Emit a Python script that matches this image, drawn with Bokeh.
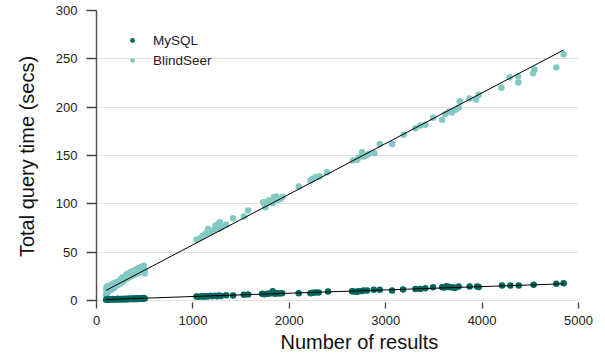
from bokeh.plotting import figure
from bokeh.models import (ColumnDataSource, Legend, LegendItem, Title, Range1d,
                          FixedTicker)
from bokeh.embed import file_html
from bokeh.resources import INLINE

# ---- data ----
bs_x = [100, 102, 105, 110, 115, 120, 125, 130, 140, 150, 155, 160, 170, 180, 190,
        200, 210, 220, 230, 240, 250, 260, 270, 280, 300, 310, 320, 330, 340, 350,
        360, 370, 380, 390, 400, 410, 420, 430, 440, 450, 460, 470, 480, 490, 500, 500,
        1037, 1080, 1103, 1130, 1158, 1175, 1200, 1217, 1234, 1258, 1270, 1279, 1300,
        1345, 1417, 1528, 1573,
        1728, 1745, 1753, 1770, 1787, 1800, 1828, 1839, 1850, 1863, 1880, 1908, 1930,
        2098, 2219, 2240, 2271, 2305, 2313, 2392,
        2658, 2703, 2720, 2755, 2772, 2800, 2824, 2883, 2938,
        3066, 3187, 3308, 3360, 3412, 3491, 3585, 3619, 3661, 3688, 3723, 3757, 3768,
        3868, 3937, 3965,
        4200, 4286, 4373, 4376, 4528, 4545, 4770, 4846]
bs_y = [6, 11, 14, 8, 12, 9, 15, 10, 13, 16, 11, 14, 17, 13, 18,
        15, 19, 16, 20, 17, 22, 19, 24, 20, 22, 27, 23, 28, 24, 29,
        25, 30, 26, 31, 27, 32, 28, 33, 29, 34, 30, 35, 31, 36, 32, 28,
        62.8, 65, 67, 69, 74, 70, 72, 73, 77.6, 79, 74, 81, 76,
        78.3, 85, 87, 93,
        101.7, 99, 96.5, 102, 103.5, 101, 100.7, 107, 104, 107.6, 104, 105, 107,
        118, 124, 126, 127.5, 128, 128.6, 132.7,
        144.8, 145.5, 148, 153.4, 149, 150, 151.7, 152.4, 162,
        162, 171.4, 178.3, 181, 181.7, 189, 187, 193, 195.5, 194.5, 197.3, 199.3, 206,
        209, 208, 212.8,
        220, 231, 231.7, 225.5, 235, 239, 241, 254.8]

my_x = [100, 105, 110, 115, 120, 125, 130, 140, 150, 160, 170, 180, 190, 200, 210,
        220, 230, 240, 250, 260, 270, 280, 290, 300, 310, 320, 330, 340, 350, 360,
        370, 380, 390, 400, 410, 420, 430, 440, 450, 460, 470, 480, 490, 500,
        1037, 1060, 1089, 1110, 1130, 1150, 1182, 1200, 1227, 1250, 1268, 1290, 1345,
        1417, 1528, 1573,
        1718, 1740, 1770, 1800, 1828, 1850, 1874, 1900, 1925,
        2098, 2219, 2240, 2271, 2305, 2402,
        2651, 2668, 2700, 2720, 2750, 2772, 2807, 2876, 2938,
        3066, 3180, 3308, 3360, 3412, 3491, 3585, 3610, 3630, 3650, 3671, 3700, 3723,
        3757, 3871, 3948, 3965,
        4207, 4293, 4380, 4535, 4770, 4846]
my_y = [0.5, 1.2, 0.3, 0.9, 1.5, 0.6, 1.1, 0.4, 1.3, 0.8, 1.6, 0.5, 1.0, 1.4, 0.7,
        1.8, 1.1, 0.6, 1.5, 1.2, 0.9, 1.7, 1.3, 0.8, 1.9, 1.4, 1.0, 2.0, 1.5, 1.2,
        2.1, 1.6, 1.1, 2.2, 1.7, 1.4, 2.3, 1.8, 1.5, 2.4, 1.9, 1.6, 2.5, 2.0,
        4.1, 3.8, 4.5, 4.0, 4.5, 4.2, 4.8, 4.3, 4.8, 4.5, 5.2, 4.7, 5.5,
        5.2, 5.9, 6.2,
        6.9, 6.5, 6.9, 7.2, 9.6, 7.0, 7.6, 7.3, 7.6,
        7.6, 7.6, 8.0, 8.3, 8.3, 9.3,
        9.6, 9.3, 9.0, 9.6, 9.8, 10.3, 10.3, 11, 11,
        10.3, 11.4, 12, 12, 12.8, 13.8, 13.8, 13.5, 14.8, 14.2, 13.8, 13.5, 13.1,
        14.5, 14.5, 14.5, 14.0,
        15.5, 15.5, 15.5, 16.2, 17.2, 17.9]

# linear fits (intercept, slope)
bs_fit = [5.25, 0.0524]
my_fit = [0.7, 0.00342]

series_names = ["MySQL", "BlindSeer"]
x_ticks = [0, 1000, 2000, 3000, 4000, 5000]
y_ticks = [0, 50, 100, 150, 200, 250, 300]

MY_COLOR = "#01665e"
BS_COLOR = "#82c9c4"
FONT = "Liberation Sans"

p = figure(width=605, height=358, output_backend="svg", toolbar_location=None,
           x_range=Range1d(0, 5000), y_range=Range1d(-2.07, 300),
           min_border_left=96, min_border_right=27, min_border_top=10,
           min_border_bottom=56)
p.outline_line_color = None
p.background_fill_color = "white"

bs_src = ColumnDataSource(dict(x=bs_x, y=bs_y))
my_src = ColumnDataSource(dict(x=my_x, y=my_y))

r_bs = p.scatter("x", "y", source=bs_src, size=6.5, color=BS_COLOR, line_color=None)
r_my = p.scatter("x", "y", source=my_src, size=6.5, color=MY_COLOR, line_color=None)

bx = [min(bs_x), max(bs_x)]
p.line(bx, [bs_fit[0] + bs_fit[1] * v for v in bx], line_color="black", line_width=1)
mx = [min(my_x), max(my_x)]
p.line(mx, [my_fit[0] + my_fit[1] * v for v in mx], line_color="black", line_width=1)

# grid
p.xgrid.grid_line_color = None
p.ygrid.grid_line_color = "#ecdfd6"
p.ygrid.grid_line_width = 1.2
p.ygrid.ticker = FixedTicker(ticks=y_ticks)

# axes
p.xaxis.ticker = FixedTicker(ticks=x_ticks)
p.yaxis.ticker = FixedTicker(ticks=y_ticks)
for ax in (p.xaxis[0], p.yaxis[0]):
    ax.major_label_text_font = FONT
    ax.major_label_text_font_size = "13px"
    ax.major_label_text_color = "#222222"
    ax.major_tick_in = 0
    ax.minor_tick_in = 0
    ax.minor_tick_out = 0
    ax.major_tick_line_color = "#444444"
    ax.major_tick_line_width = 1.3

p.xaxis.axis_line_color = None
p.xaxis.major_tick_out = 6
p.xaxis.major_label_standoff = 7

p.yaxis.axis_line_color = "#555555"
p.yaxis.axis_line_width = 1.5
p.yaxis.major_tick_out = 10
p.yaxis.major_label_standoff = 9
p.yaxis.axis_label = "Total query time (secs)"
p.yaxis.axis_label_text_font = FONT
p.yaxis.axis_label_text_font_size = "20px"
p.yaxis.axis_label_text_font_style = "normal"
p.yaxis.axis_label_text_color = "#111111"
p.yaxis.axis_label_standoff = 15

xt = Title(text="Number of results", align="left", offset=184,
           text_font=FONT, text_font_size="20px", text_font_style="normal",
           text_color="#111111", standoff=2)
p.add_layout(xt, "below")

legend = Legend(items=[LegendItem(label=series_names[0], renderers=[r_my]),
                       LegendItem(label=series_names[1], renderers=[r_bs])],
                location=(30, 232))
legend.border_line_color = None
legend.background_fill_alpha = 0
legend.margin = 0
legend.padding = 0
legend.spacing = 0
legend.glyph_width = 12
legend.glyph_height = 20
legend.label_height = 20
legend.label_standoff = 15
legend.label_text_font = FONT
legend.label_text_font_size = "13.5px"
legend.label_text_color = "#222222"
p.add_layout(legend, "center")

open("out.html", "w").write(file_html(p, INLINE))
